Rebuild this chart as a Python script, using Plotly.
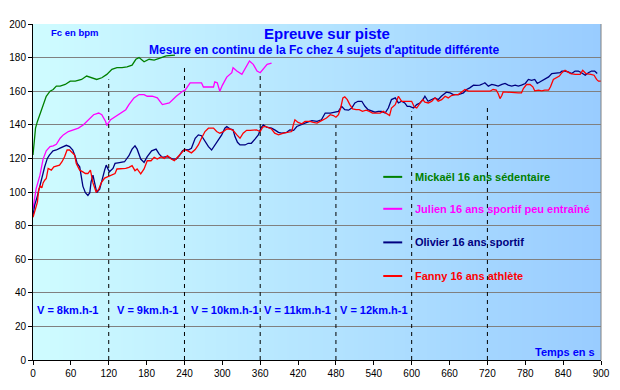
import base64, struct, zlib
import plotly.graph_objects as go

# ---------------- data ----------------
mick_t = [0, 2, 4, 7, 11, 16, 21, 27, 32, 37, 43, 51, 59, 67, 77, 85, 93, 101, 109, 117, 125, 133, 141, 149,
          157, 163, 168, 176, 184, 192, 200, 211, 225]
mick_v = [122, 131, 138, 142, 146, 152, 157, 160, 161, 163, 163, 164, 166, 166, 167, 169, 168, 167, 168, 170,
          173, 174, 174, 174.5, 175.5, 179, 180, 177.5, 179, 178.5, 179.5, 181, 181.5]

jul_t = [0, 5, 11, 16, 21, 27, 32, 37, 43, 48, 56, 64, 72, 80, 88, 96, 104, 109, 115, 117, 123, 131, 139, 147,
         152, 160, 168, 176, 181, 189, 197, 205, 216, 227, 237, 241, 249, 259, 267, 270, 280, 286, 288, 292,
         296, 300, 307, 315, 317, 323, 331, 336, 343, 349, 355, 360, 365, 371, 378]
jul_v = [90, 102, 110, 119.6, 124.5, 127, 127.5, 128.4, 132, 134, 136, 137, 138, 140, 143, 146, 147, 146, 142,
         139.6, 143, 145, 147, 149, 152, 156, 158, 158, 157, 157, 156, 152, 153, 157, 160, 160.6, 165, 165, 165,
         162.5, 162.5, 162.5, 165.5, 165, 160, 163.5, 168.4, 171, 174, 172, 170, 173, 178, 176, 172, 171, 173,
         176, 176.7]

oli_t = [0, 2.6, 7, 10.6, 14, 18.5, 22.7, 26, 31.7, 37, 42, 47.5, 52.8, 58, 63, 67, 70, 74, 76.6, 79, 83, 87,
         90, 92, 95, 97.7, 101, 105.6, 109, 113.5, 116, 119, 121, 126.7, 130, 137, 145, 152, 157, 161.6, 165,
         170.7, 176, 181, 188, 195, 200, 205, 211, 216, 221, 227, 232, 237, 241, 246, 251, 257, 262, 267,
         272.5, 278, 283, 288, 294, 299, 304, 307, 312, 317, 320, 324, 328, 336, 341, 346, 352, 357, 361, 365,
         370, 378, 383, 389, 394, 402, 407, 413, 418, 426, 434, 442, 450, 457, 463, 471, 478, 484, 489, 494,
         500, 505, 510, 515, 521, 526, 531, 537, 542, 547, 552, 558, 563, 568, 574, 579, 584, 589, 593, 597,
         603, 608, 613, 618, 621, 626, 632, 637, 642, 647, 655, 661, 666, 674, 682, 687, 692, 698, 703, 708,
         714, 716, 721.5, 727, 732, 737, 743, 748, 753, 758.5, 764, 769, 774, 780, 785, 790, 795, 799, 803,
         809, 817, 822, 830, 835, 838, 843, 848, 853.5, 859, 864, 869, 875, 880, 885, 890, 894]
oli_v = [86, 92, 97.7, 103.5, 109, 115, 120, 122, 124.5, 125, 126, 127, 127.8, 127, 125, 121, 117, 115, 109,
         103.5, 99.6, 98, 99.6, 106, 110, 105.4, 99.6, 101.6, 107, 113, 116, 113, 112, 114, 117, 117.5, 118,
         121.6, 125.5, 127.5, 125.5, 119.6, 117.6, 121, 124.5, 125.5, 122.5, 120.6, 121, 120.6, 119.6, 119.6,
         121.6, 124.5, 125.3, 125, 126, 132, 134, 133.5, 130, 127, 125, 128, 131.6, 134, 138, 139, 137.6, 137,
         133, 129.6, 128, 128, 129, 129, 131.6, 134, 138, 140, 138.6, 138, 137, 135.5, 135, 135.5, 137, 136.7,
         139, 140, 141.4, 142.5, 142, 143, 147, 147, 147.5, 148, 151, 149, 148.7, 150, 153, 154, 154, 151, 149,
         148, 147.5, 148, 148, 147, 150, 155, 156, 153, 154, 153, 151, 151, 150, 152, 153, 155, 157, 154, 155,
         156, 155, 157, 159.4, 159, 158, 158, 159, 161, 162, 163.6, 163.5, 163.6, 164.6, 165, 163, 164, 163.6,
         163, 164, 164.6, 163.6, 163, 163.6, 163, 163.6, 164.6, 167, 166.5, 167, 164.6, 165.5, 167, 168.5,
         170.5, 171, 171, 172, 172, 171.5, 170.5, 172, 172, 171, 169.5, 171, 172, 172, 170.5]

fan_t = [0, 3.7, 7, 9, 11.6, 14, 16, 18.5, 21, 24, 26.4, 29, 33, 38.5, 42, 46, 50, 54, 58, 60.7, 66, 68.6, 74,
         79, 83, 87, 91, 95, 100, 104, 108, 113.5, 119, 124, 130, 133, 147, 152, 157, 161.6, 165, 170.7, 176,
         181, 187, 192, 197, 203, 208, 213, 219, 224, 229, 235, 240, 246, 251, 257, 262, 267, 272.5, 278, 286,
         291, 296, 302, 307, 312, 317, 323, 328, 333, 338.5, 344, 349, 354, 360, 364, 368, 373, 378, 383, 389,
         397, 405, 410, 412.5, 415, 420, 426, 431, 439, 444, 450, 455, 460, 465, 471, 476, 480, 484, 487.5,
         491, 494, 498, 502, 506.5, 512, 517, 522, 528, 533, 538, 544, 550, 555, 560, 565, 568, 574, 579, 584,
         589, 595, 600, 604, 608, 613, 617.5, 621, 626.5, 632, 637, 642, 647.5, 653, 658, 663, 669, 674, 679,
         684.5, 690, 724, 729, 734, 737, 740, 743, 745, 769, 774, 777, 782, 787.5, 792, 795, 801, 806, 811,
         817, 820, 824.5, 830, 834, 838, 843, 847, 852, 859, 867, 871, 876, 884, 889, 893, 896, 900]
fan_v = [85, 90, 94, 101.5, 103.5, 102.5, 105.4, 107, 108, 114, 113.6, 113, 115, 115.5, 116, 118, 121, 125,
         125, 124, 122, 117, 113, 112, 111, 111, 113, 105.4, 100, 101.5, 105.4, 108.3, 109.3, 110.3, 111,
         113.7, 114, 114.7, 115.7, 112.7, 113.7, 110.8, 113.7, 118.6, 118.6, 120.6, 119.6, 121, 120, 121.6,
         119.6, 118.6, 120.6, 123.5, 125.3, 124.3, 123.3, 125.3, 128, 132, 136, 138, 138, 136, 135, 136, 137.5,
         137.5, 136.7, 134, 132, 135, 136.7, 136.7, 137, 137, 136, 138.6, 139, 138, 137.5, 135, 134, 135,
         135.5, 136, 140, 143, 141.4, 140.6, 142, 142, 141.4, 141, 142, 143, 144, 146, 145.5, 144.5, 146, 150,
         156, 156.6, 155, 152, 149.5, 149, 149, 148, 148.7, 148, 147, 147, 147, 148, 147, 145.5, 150, 152, 157,
         154, 154, 154, 154, 150.7, 150, 152.7, 155, 153.5, 153, 154, 156, 154, 155, 157, 156, 157.4, 158, 158,
         159.4, 161, 160, 160, 161, 160.6, 158.6, 155.6, 157.6, 159.6, 159, 159, 161.6, 164, 164, 162.6, 160.2,
         160.6, 160.2, 160.6, 160.6, 162.6, 167, 168, 169, 171, 172.5, 171.5, 170.5, 170, 170, 172.5, 170.5,
         170, 169.5, 167, 166, 166]

stage_t = [120, 240, 360, 480, 600, 720]          # stage changes (s)
stage_top = [167, 176, 171, 140, 148, 150]        # top of dashed separator
speed_labels = ["V = 8km.h-1", "V = 9km.h-1", "V = 10km.h-1", "V = 11km.h-1", "V = 12km.h-1"]
speed_t = [54, 181, 305, 419, 541]
speed_y = 30

names = ["Mickaël 16 ans sédentaire", "Julien 16 ans sportif peu entraîné",
         "Olivier 16 ans sportif", "Fanny 16 ans athlète"]
colors = ["#008000", "#FF00FF", "#000080", "#FF0000"]
legend_y = [109, 90, 70, 50]

x_ticks = list(range(0, 901, 60))
y_ticks = list(range(0, 201, 20))

FONT = "Arial, Liberation Sans, sans-serif"
BLUE = "#0000FF"

# ---------------- gradient background as PNG ----------------
def gradient_png(c0, c1, w=256):
    row = b"\x00"
    for i in range(w):
        f = i / (w - 1)
        row += bytes(int(round(c0[k] + (c1[k] - c0[k]) * f)) for k in range(3))
    def chunk(tag, data):
        c = struct.pack(">I", len(data)) + tag + data
        return c + struct.pack(">I", zlib.crc32(tag + data) & 0xFFFFFFFF)
    png = b"\x89PNG\r\n\x1a\n"
    png += chunk(b"IHDR", struct.pack(">IIBBBBB", w, 1, 8, 2, 0, 0, 0))
    png += chunk(b"IDAT", zlib.compress(row))
    png += chunk(b"IEND", b"")
    return "data:image/png;base64," + base64.b64encode(png).decode()

bg = gradient_png((0xCF, 0xFC, 0xFF), (0x99, 0xCC, 0xFF))

fig = go.Figure()
series = [(mick_t, mick_v), (jul_t, jul_v), (oli_t, oli_v), (fan_t, fan_v)]
for (t, v), n, c in zip(series, names, colors):
    fig.add_trace(go.Scatter(x=t, y=v, mode="lines", name=n, line=dict(color=c, width=1.3),
                             showlegend=False))

shapes = []
for t, top in zip(stage_t, stage_top):
    shapes.append(dict(type="line", xref="x", yref="y", x0=t, x1=t, y0=0, y1=top,
                       line=dict(color="black", width=1, dash="4px,4px"), layer="above"))
# right border of plot area
shapes.append(dict(type="line", xref="x domain", yref="y domain", x0=1, x1=1, y0=0, y1=1,
                   line=dict(color="#808080", width=1)))
# legend line samples
for c, ly in zip(colors, legend_y):
    shapes.append(dict(type="line", xref="x", yref="y", x0=555, x1=585, y0=ly, y1=ly,
                       line=dict(color=c, width=2)))

ann = []
for n, c, ly in zip(names, colors, legend_y):
    ann.append(dict(x=602, y=ly, xref="x", yref="y", text="<b>" + n + "</b>", showarrow=False,
                    xanchor="left", yanchor="middle", font=dict(family=FONT, size=11, color=c)))
for s, t in zip(speed_labels, speed_t):
    ann.append(dict(x=t, y=speed_y, xref="x", yref="y", text="<b>" + s + "</b>", showarrow=False,
                    xanchor="center", yanchor="middle", font=dict(family=FONT, size=11, color=BLUE)))
ann.append(dict(x=466, y=194.6, xref="x", yref="y", text="<b>Epreuve sur piste</b>", showarrow=False,
                xanchor="center", yanchor="middle", font=dict(family=FONT, size=15, color=BLUE)))
ann.append(dict(x=462, y=184.5, xref="x", yref="y",
                text="<b>Mesure en continu de la Fc chez 4 sujets d'aptitude différente</b>",
                showarrow=False, xanchor="center", yanchor="middle",
                font=dict(family=FONT, size=12, color=BLUE)))
ann.append(dict(x=26, y=195, xref="x", yref="y", text="<b>Fc en bpm</b>", showarrow=False,
                xanchor="left", yanchor="middle", font=dict(family=FONT, size=9.5, color=BLUE)))
ann.append(dict(x=893, y=4.8, xref="x", yref="y", text="<b>Temps en s</b>", showarrow=False,
                xanchor="right", yanchor="middle", font=dict(family=FONT, size=11, color=BLUE)))

# page body has an 8px default margin: shrink the figure so the plot lands where the reference has it
fig.update_layout(
    width=612, height=382,
    margin=dict(l=25, r=19, t=16, b=30),
    paper_bgcolor="white", plot_bgcolor="#B4E4FF",
    shapes=shapes, annotations=ann,
    images=[dict(source=bg, xref="x", yref="y", x=0, y=200, sizex=900, sizey=200,
                 sizing="stretch", layer="below", xanchor="left", yanchor="top")],
    xaxis=dict(range=[0, 900], tickvals=x_ticks, showgrid=False, zeroline=False,
               showline=True, linecolor="black", linewidth=1, ticks="outside", ticklen=4,
               tickcolor="black", tickfont=dict(family=FONT, size=10, color="black"),
               automargin=False),
    yaxis=dict(range=[0, 200], tickvals=y_ticks, showgrid=True, gridcolor="#808080", gridwidth=1,
               zeroline=False, showline=True, linecolor="black", linewidth=1, ticks="outside",
               ticklen=4, tickcolor="black", tickfont=dict(family=FONT, size=10, color="black"),
               automargin=False),
    showlegend=False,
)

fig.write_html("out.html")
